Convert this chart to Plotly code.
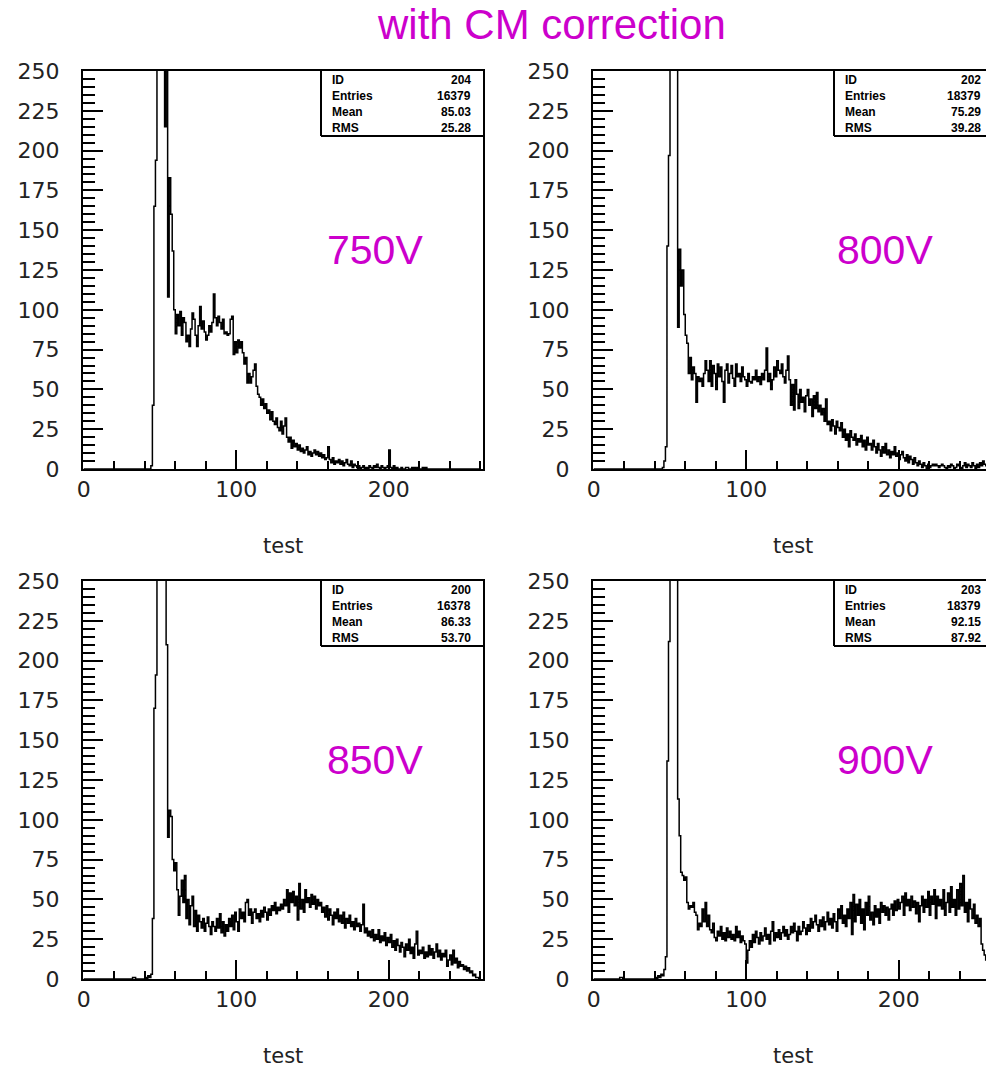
import plotly.graph_objects as go

# ---------------- data (counts per unit-wide bin, bins 0..259) ----------------
bins = list(range(0, 260))

counts_750 = [0]*44 + [
    2, 40, 165, 194, 400, 600, 700, 500, 350, 215,          # 44-53
    280, 108, 183, 160, 137, 100, 85, 97, 90, 99,           # 54-63
    84, 95, 92, 80, 84, 77, 88, 98, 94, 84,                 # 64-73
    77, 90, 102, 88, 93, 86, 81, 84, 90, 86,                # 74-83
    92, 110, 95, 90, 96, 92, 88, 94, 85, 86,                # 84-93
    84, 85, 94, 96, 72, 80, 73, 81, 76, 80,                 # 94-103
    73, 66, 70, 54, 60, 54, 58, 62, 66, 52,                 # 104-113
    47, 45, 40, 44, 38, 41, 35, 37, 31, 36,                 # 114-123
    30, 28, 32, 26, 24, 30, 22, 27, 32, 20,                 # 124-133
    17, 20, 13, 18, 14, 16, 12, 15, 11, 13,                 # 134-143
    10, 12, 14, 9, 11, 8, 10, 12, 9, 11,                    # 144-153
    8, 10, 7, 9, 6, 7, 14, 6, 4, 7,                         # 154-163
    3, 5, 4, 6, 3, 5, 2, 4, 6, 3,                           # 164-173
    2, 5, 1, 3, 2, 1, 2, 0, 1, 2,                           # 174-183
    0, 1, 0, 2, 1, 0, 2, 1, 3, 1,                           # 184-193
    0, 2, 1, 0, 1, 2, 12, 1, 0, 2,                          # 194-203
    0, 1, 0, 0, 1, 0, 0, 1, 1, 0,                           # 204-213
    0, 1, 0, 1, 0, 1, 0, 0, 1, 0,                           # 214-223
    1] + [0]*35                                             # 224-259

counts_800 = [0]*45 + [
    1, 5, 14, 140, 197, 500, 700, 600, 400, 300,            # 45-54
    89, 138, 115, 125, 97, 84, 79, 60, 70, 56,              # 55-64
    64, 60, 42, 58, 55, 57, 52, 60, 68, 62,                 # 65-74
    55, 68, 52, 65, 60, 50, 66, 58, 64, 55,                 # 75-84
    42, 62, 66, 54, 60, 65, 57, 52, 66, 58,                 # 85-94
    60, 55, 64, 58, 56, 52, 60, 55, 54, 58,                 # 95-104
    56, 62, 55, 58, 53, 60, 56, 62, 76, 55,                 # 105-114
    60, 50, 56, 64, 58, 68, 62, 60, 66, 58,                 # 115-124
    54, 62, 71, 56, 40, 53, 37, 56, 47, 38,                 # 125-134
    50, 42, 45, 36, 46, 50, 40, 44, 33, 46,                 # 135-144
    38, 48, 36, 40, 34, 38, 30, 44, 28, 30,                 # 145-154
    24, 31, 27, 22, 30, 26, 24, 29, 20, 25,                 # 155-164
    18, 22, 14, 24, 20, 18, 22, 15, 19, 17,                 # 165-174
    21, 14, 18, 12, 20, 15, 16, 12, 18, 14,                 # 175-184
    10, 16, 12, 8, 14, 10, 16, 9, 12, 7,                    # 185-194
    11, 9, 14, 8, 10, 6, 9, 11, 7, 5,                       # 195-204
    9, 4, 8, 6, 3, 7, 4, 2, 5, 3,                           # 205-214
    1, 4, 2, 0, 3, 1, 2, 3, 2, 3,                           # 215-224
    2, 1, 2, 3, 2, 1, 0, 2, 1, 3,                           # 225-234
    2, 0, 1, 3, 2, 1, 0, 2, 4, 1,                           # 235-244
    3, 2, 1, 4, 2, 0, 3, 1, 4, 2,                           # 245-254
    5, 3, 2, 0, 0]                                          # 255-259

counts_850 = [0]*32 + [1, 1] + [0]*6 + [
    1, 0, 2, 1, 3, 38, 170, 191, 400, 600,                  # 40-49
    700, 500, 350, 260, 210, 89, 106, 102, 75, 68,          # 50-59
    73, 56, 40, 52, 62, 48, 65, 38, 50, 34,                 # 60-69
    46, 52, 33, 43, 30, 40, 36, 32, 38, 30,                 # 70-79
    35, 39, 33, 28, 36, 33, 30, 38, 32, 41,                 # 80-89
    29, 36, 27, 34, 30, 38, 33, 40, 31, 42,                 # 90-99
    36, 30, 44, 38, 42, 36, 48, 50, 40, 44,                 # 100-109
    35, 42, 44, 38, 41, 36, 43, 39, 45, 42,                 # 110-119
    37, 44, 40, 46, 43, 48, 41, 45, 43, 47,                 # 120-129
    44, 50, 46, 56, 42, 54, 48, 55, 46, 52,                 # 130-139
    37, 60, 44, 50, 42, 56, 48, 51, 45, 53,                 # 140-149
    47, 52, 44, 50, 46, 48, 42, 45, 39, 46,                 # 150-159
    37, 44, 40, 34, 42, 38, 44, 36, 40, 35,                 # 160-169
    42, 32, 38, 35, 40, 33, 36, 31, 38, 33,                 # 170-179
    35, 30, 34, 47, 29, 32, 27, 30, 26, 31,                 # 180-189
    24, 28, 25, 31, 23, 27, 24, 29, 21, 26,                 # 190-199
    23, 28, 20, 24, 18, 25, 21, 17, 23, 20,                 # 200-209
    14, 22, 18, 25, 16, 20, 13, 22, 30, 15,                 # 210-219
    18, 16, 20, 13, 17, 14, 21, 15, 19, 13,                 # 220-229
    17, 22, 14, 18, 12, 16, 14, 18, 8, 12,                  # 230-239
    15, 9, 18, 10, 13, 7, 11, 8, 9, 6,                      # 240-249
    8, 5, 7, 4, 5, 2, 3, 1, 1, 0]                           # 250-259

counts_900 = [0]*17 + [1, 1] + [0]*21 + [
    1, 0, 2, 1, 3, 2, 6, 14, 137, 212,                      # 40-49
    500, 700, 600, 400, 300, 113, 90, 67, 65, 62,           # 50-59
    64, 48, 44, 46, 45, 48, 42, 40, 31, 35,                 # 60-69
    33, 44, 36, 48, 33, 40, 31, 29, 35, 26,                 # 70-79
    24, 30, 27, 33, 25, 29, 24, 32, 26, 30,                 # 80-89
    25, 28, 24, 33, 26, 30, 23, 27, 24, 22,                 # 90-99
    10, 18, 24, 20, 28, 23, 30, 26, 22, 29,                 # 100-109
    24, 27, 32, 25, 28, 22, 30, 36, 24, 29,                 # 110-119
    26, 31, 25, 29, 33, 27, 31, 25, 28, 33,                 # 120-129
    29, 35, 30, 24, 33, 28, 30, 36, 32, 28,                 # 130-139
    34, 30, 38, 32, 36, 40, 34, 30, 37, 33,                 # 140-149
    39, 31, 36, 42, 34, 38, 32, 41, 36, 30,                 # 150-159
    44, 38, 46, 35, 40, 33, 44, 38, 48, 28,                 # 160-169
    53, 36, 47, 40, 50, 35, 44, 31, 48, 40,                 # 170-179
    52, 37, 42, 34, 46, 39, 44, 35, 48, 42,                 # 180-189
    46, 40, 45, 37, 44, 47, 40, 49, 43, 50,                 # 190-199
    44, 48, 52, 40, 54, 46, 50, 43, 52, 45,                 # 200-209
    49, 41, 48, 36, 46, 52, 42, 50, 45, 55,                 # 210-219
    40, 52, 47, 56, 38, 52, 46, 50, 44, 56,                 # 220-229
    40, 48, 54, 42, 58, 45, 50, 40, 56, 44,                 # 230-239
    60, 46, 65, 42, 48, 36, 50, 44, 38, 47,                 # 240-249
    35, 40, 33, 38, 22, 18, 15, 12, 10, 8]                  # 250-259

voltage_labels = ["750V", "800V", "850V", "900V"]
stats_names = ["ID", "Entries", "Mean", "RMS"]
stats_values = [
    ["204", "16379", "85.03", "25.28"],
    ["202", "18379", "75.29", "39.28"],
    ["200", "16378", "86.33", "53.70"],
    ["203", "18379", "92.15", "87.92"],
]
x_tick_vals = [0, 100, 200]
y_tick_vals = [0, 25, 50, 75, 100, 125, 150, 175, 200, 225, 250]
x_title = "test"
main_title = "with CM correction"

# ---------------- layout geometry ----------------
W, H = 986, 1067
MAG = "#CC00CC"

def px_x(p):
    return p / W

def px_y(p):
    return 1 - p / H

# panels: (left px, right px, top px, bottom px)
panels = [
    (83, 483, 71, 469),
    (593, 986, 71, 469),
    (83, 483, 581, 979),
    (593, 986, 581, 979),
]
PX_PER_UNIT = 1.525
X0 = -0.5

all_counts = [counts_750, counts_800, counts_850, counts_900]

fig = go.Figure()
shapes = []
annotations = []

for i, (cnt, (l, r, t, b)) in enumerate(zip(all_counts, panels)):
    n = i + 1
    xa = "x" if n == 1 else f"x{n}"
    ya = "y" if n == 1 else f"y{n}"
    xs = bins + [bins[-1] + 1]
    ys = cnt + [cnt[-1]]
    fig.add_trace(go.Scatter(
        x=xs, y=ys, mode="lines", line=dict(color="black", width=1.5, shape="hv"),
        xaxis=xa, yaxis=ya, showlegend=False, hoverinfo="skip"))

    right_side = l > 500
    xrange = [X0, X0 + (r - l) / PX_PER_UNIT]
    axfont = dict(family="DejaVu Sans", size=22, color="#222")
    fig.layout[("xaxis" if n == 1 else f"xaxis{n}")] = dict(
        domain=[px_x(l), px_x(r)], anchor=ya, range=xrange, automargin=False,
        showgrid=False, zeroline=False, showline=True, linecolor="black",
        linewidth=2, mirror=True,
        tickmode="array", tickvals=x_tick_vals, ticks="inside", ticklen=19,
        tickwidth=1.5, tickcolor="black", tickfont=axfont,
        ticklabelstandoff=0,
        minor=dict(dtick=20, tick0=0, ticks="inside", ticklen=8,
                   tickwidth=1.5, tickcolor="black"),
    )
    fig.layout[("yaxis" if n == 1 else f"yaxis{n}")] = dict(
        domain=[px_y(b), px_y(t)], anchor=xa, range=[0, 250], automargin=False,
        showgrid=False, zeroline=False, showline=True, linecolor="black",
        linewidth=2, mirror=(not right_side),
        tickmode="array", tickvals=y_tick_vals, ticks="inside", ticklen=20,
        tickwidth=1.5, tickcolor="black", tickfont=axfont,
        ticklabelstandoff=17,
        minor=dict(dtick=5, tick0=0, ticks="inside", ticklen=12,
                   tickwidth=1.5, tickcolor="black"),
    )

    # stats box (left and bottom edges; top/right are the frame)
    box_l = l + 238 + (3 if right_side else 0)
    box_b = t + 65
    shapes.append(dict(type="line", xref="paper", yref="paper",
                       x0=px_x(box_l), x1=px_x(box_l), y0=px_y(t), y1=px_y(box_b),
                       line=dict(color="black", width=2)))
    shapes.append(dict(type="line", xref="paper", yref="paper",
                       x0=px_x(box_l), x1=px_x(min(r, 986)), y0=px_y(box_b), y1=px_y(box_b),
                       line=dict(color="black", width=2)))
    for k, (nm, val) in enumerate(zip(stats_names, stats_values[i])):
        yy = t + 9 + k * 16
        annotations.append(dict(text=f"<b>{nm}</b>", xref="paper", yref="paper",
                                x=px_x(box_l + 9), y=px_y(yy), xanchor="left", yanchor="middle",
                                showarrow=False, font=dict(family="Liberation Sans", size=12, color="black")))
        annotations.append(dict(text=f"<b>{val}</b>", xref="paper", yref="paper",
                                x=px_x(l + 390), y=px_y(yy), xanchor="right", yanchor="middle",
                                showarrow=False, font=dict(family="Liberation Sans", size=12, color="black")))

    # voltage label
    annotations.append(dict(text=voltage_labels[i], xref="paper", yref="paper",
                            x=px_x(l + 292), y=px_y(t + 179), xanchor="center", yanchor="middle",
                            showarrow=False, font=dict(family="Liberation Sans", size=41, color=MAG)))
    # x axis title
    annotations.append(dict(text=x_title, xref="paper", yref="paper",
                            x=px_x(l + 200), y=px_y(b + 77), xanchor="center", yanchor="middle",
                            showarrow=False, font=dict(family="DejaVu Sans", size=21, color="#222")))

annotations.append(dict(text=main_title, xref="paper", yref="paper",
                        x=px_x(551), y=px_y(25), xanchor="center", yanchor="middle",
                        showarrow=False, font=dict(family="Liberation Sans", size=42, color=MAG)))

fig.update_layout(
    width=W, height=H, margin=dict(l=0, r=0, t=0, b=0, autoexpand=False),
    paper_bgcolor="white", plot_bgcolor="white",
    shapes=shapes, annotations=annotations, showlegend=False,
)

fig.write_html("out.html")
